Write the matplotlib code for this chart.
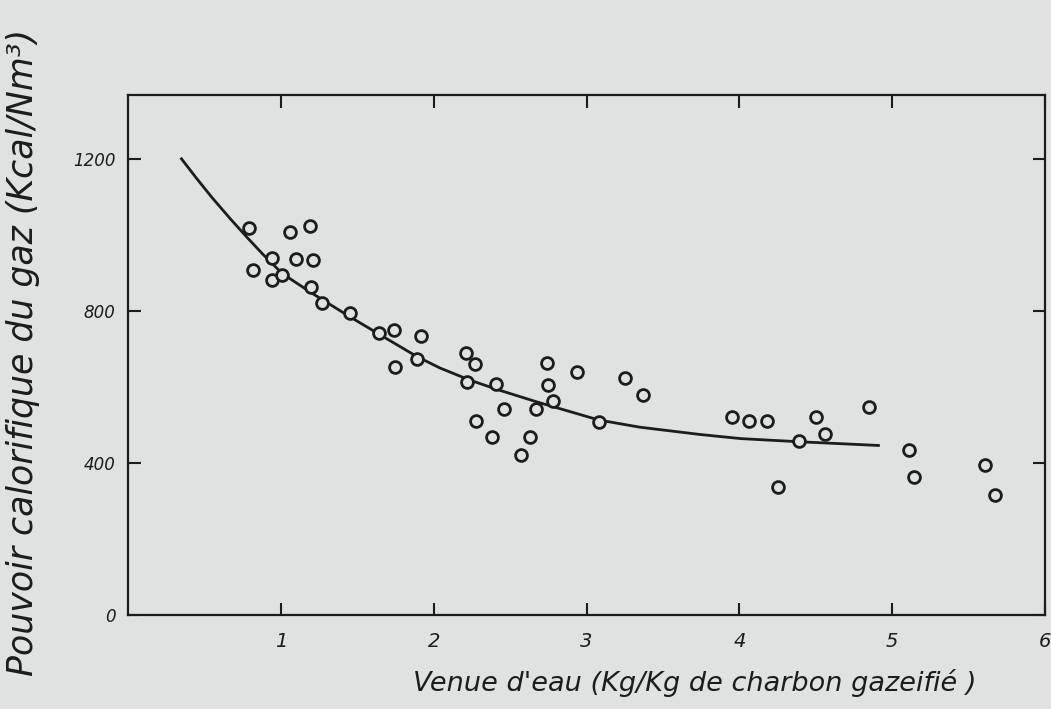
import matplotlib.pyplot as plt

# water supply (kg/kg of gasified coal) vs. gas heating value (kcal/Nm3)
water = [0.79, 0.82, 0.94, 0.94, 1.01, 1.06, 1.10, 1.19, 1.21, 1.20,
         1.27, 1.45, 1.64, 1.74, 1.75, 1.92, 1.89, 2.21, 2.27, 2.22,
         2.41, 2.46, 2.28, 2.38, 2.57, 2.63, 2.67, 2.74, 2.75, 2.78,
         2.94, 3.08, 3.25, 3.37, 3.95, 4.06, 4.18, 4.25, 4.39, 4.50,
         4.56, 4.85, 5.11, 5.14, 5.61, 5.67]
heat = [1019, 908, 939, 882, 895, 1007, 936, 1024, 934, 864,
        820, 794, 741, 751, 653, 734, 673, 690, 661, 614,
        607, 541, 511, 469, 421, 468, 541, 664, 605, 564,
        640, 508, 623, 579, 522, 510, 511, 338, 458, 520,
        476, 548, 434, 363, 395, 316]

# hand drawn trend curve
curve_x = [0.35, 0.45, 0.55, 0.67, 0.78, 0.88, 1.01, 1.21, 1.45, 1.65,
           1.89, 2.04, 2.23, 2.41, 2.68, 3.08, 3.35, 3.74, 4.01, 4.38, 4.91]
curve_y = [1200, 1148, 1098, 1042, 993, 950, 898, 845, 785, 737,
           680, 650, 619, 594, 560, 513, 494, 475, 464, 456, 446]

xticks = [1, 2, 3, 4, 5, 6]
yticks = [0, 400, 800, 1200]

bg = '#dfe2e1'
ink = '#1c1c1c'

fig = plt.figure(figsize=(10.51, 7.09), dpi=100, facecolor=bg)
ax = fig.add_axes([0.1218, 0.1326, 0.8725, 0.7334], facecolor=bg)

ax.plot(curve_x, curve_y, color=ink, lw=2.0, zorder=2)
ax.plot(water, heat, 'o', ms=8.5, mfc=bg, mec=ink, mew=2.0, zorder=3)

ax.set_xlim(0, 6)
ax.set_ylim(0, 1368)

for s in ax.spines.values():
    s.set_linewidth(1.6)
    s.set_color(ink)

ax.set_xticks(xticks)
ax.set_xticklabels([str(t) for t in xticks])
ax.set_yticks(yticks)
ax.set_yticklabels([str(t) for t in yticks])
ax.tick_params(direction='in', length=9, width=1.5, color=ink,
               top=True, right=True, labelcolor=ink)
ax.tick_params(axis='x', pad=12, labelsize=14)
ax.tick_params(axis='y', pad=9, labelsize=12)
for lab in ax.get_xticklabels() + ax.get_yticklabels():
    lab.set_fontstyle('italic')

fig.text(0.022, 0.503, 'Pouvoir calorifique du gaz (Kcal/Nm³)', rotation=90,
         ha='center', va='center', fontsize=25, fontstyle='italic', color=ink)
fig.text(0.661, 0.037, "Venue d'eau (Kg/Kg de charbon gazeifié )",
         ha='center', va='center', fontsize=19.5, fontstyle='italic', color=ink)

fig.savefig('out.png', dpi=100, facecolor=bg)
